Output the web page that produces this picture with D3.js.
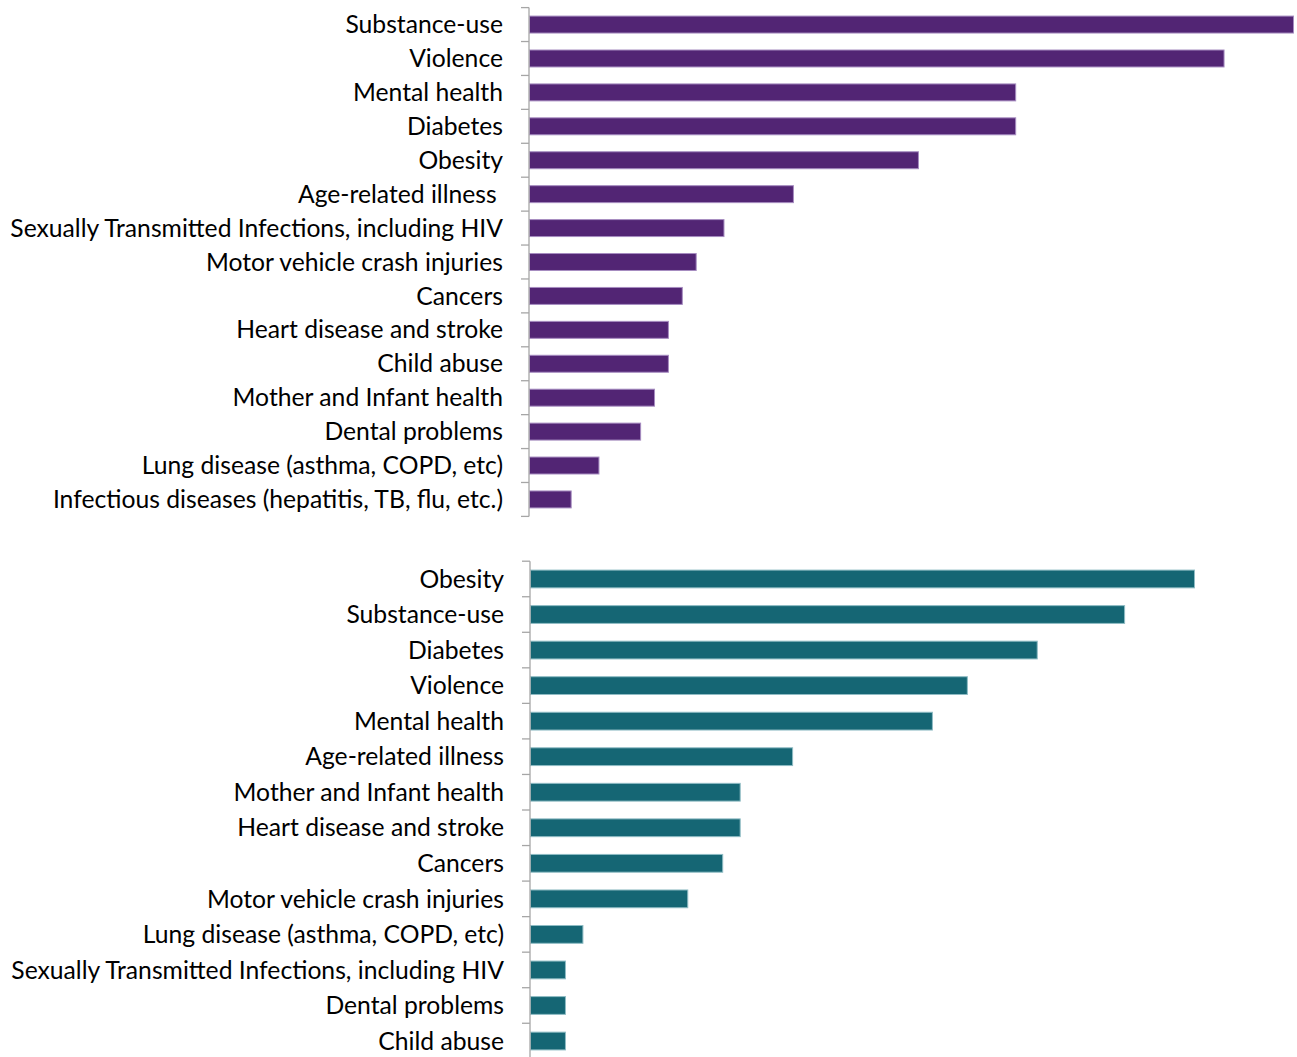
<!DOCTYPE html>
<html><head><meta charset="utf-8">
<script src="https://cdn.jsdelivr.net/npm/d3@7"></script>
<style>
html,body{margin:0;padding:0;background:#fff;}
svg{display:block;}
text{font-family:Lato,"Open Sans",sans-serif;fill:#000;white-space:pre;}
</style></head>
<body>
<svg id="chart" width="1297" height="1057"></svg>
<script>
// ---- data ----
const topCategories = ["Substance-use","Violence","Mental health","Diabetes","Obesity","Age-related illness ","Sexually Transmitted Infections, including HIV","Motor vehicle crash injuries","Cancers","Heart disease and stroke","Child abuse","Mother and Infant health","Dental problems","Lung disease (asthma, COPD, etc)","Infectious diseases (hepatitis, TB, flu, etc.)"];
const topValues = [55,50,35,35,28,19,14,12,11,10,10,9,8,5,3];
const bottomCategories = ["Obesity","Substance-use","Diabetes","Violence","Mental health","Age-related illness","Mother and Infant health","Heart disease and stroke","Cancers","Motor vehicle crash injuries","Lung disease (asthma, COPD, etc)","Sexually Transmitted Infections, including HIV","Dental problems","Child abuse"];
const bottomValues = [38,34,29,25,23,15,12,12,11,9,3,2,2,2];

const svg = d3.select("#chart");

function panel(cfg){
  const g = svg.append("g");
  const y = d3.scaleBand().domain(cfg.cats).range([cfg.y0, cfg.y1]).paddingInner(0.5).paddingOuter(0.25);
  const x = d3.scaleLinear().domain([0, cfg.max]).range([cfg.x0, cfg.x1]);
  const data = cfg.cats.map((c,i)=>({c, v: cfg.vals[i]}));
  g.selectAll("rect").data(data).join("rect")
    .attr("x", x(0)+0.5)
    .attr("y", d=>y(d.c))
    .attr("width", d=>x(d.v)-x(0))
    .attr("height", y.bandwidth())
    .attr("fill", cfg.fill)
    .attr("stroke", cfg.stroke)
    .attr("stroke-width", 1);
  // axis line
  g.append("line").attr("x1", x(0)).attr("x2", x(0)).attr("y1", cfg.y0).attr("y2", cfg.y1)
    .attr("stroke", "#a6a6a6").attr("stroke-width", 1.3);
  // ticks at band boundaries
  const step = y.step();
  const bounds = d3.range(cfg.cats.length+1).map(i => cfg.y0 + i*(cfg.y1-cfg.y0)/cfg.cats.length);
  g.selectAll("line.tick").data(bounds).join("line").attr("class","tick")
    .attr("x1", x(0)-8).attr("x2", x(0)).attr("y1", d=>d).attr("y2", d=>d)
    .attr("stroke", "#a6a6a6").attr("stroke-width", 1.3);
  const labels = g.selectAll("text").data(data).join("text")
    .attr("x", x(0)-26)
    .attr("y", d=>y(d.c)+y.bandwidth()/2)
    .attr("dy","0.35em")
    .attr("text-anchor","end")
    .attr("font-size", 22)
    .text(d=>d.c);
  return labels;
}

const l1 = panel({cats: topCategories, vals: topValues, max: 55, x0: 529, x1: 1293, y0: 7.6, y1: 516.4, fill:"#522574", stroke:"#a68cc0"});
const l2 = panel({cats: bottomCategories, vals: bottomValues, max: 38, x0: 530, x1: 1194, y0: 561.2, y1: 1058.8, fill:"#156674", stroke:"#8fbcc4"});

// fit font size so the longest label spans like the reference (~493px)
const longest = l1.filter(d=>d.c.startsWith("Sexually")).node();
const w = longest.getComputedTextLength();
const fs = 22 * 493 / w;
l1.attr("font-size", fs);
l2.attr("font-size", fs);
</script>
</body></html>
